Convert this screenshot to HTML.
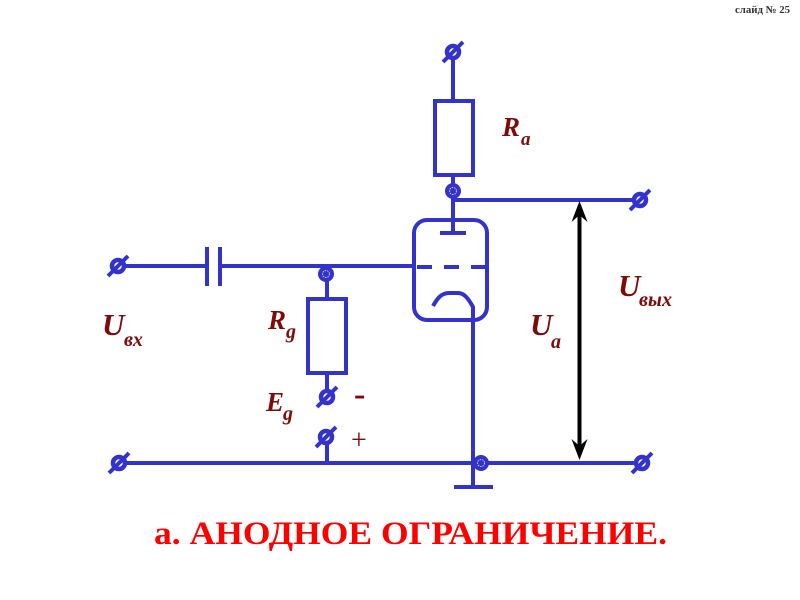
<!DOCTYPE html>
<html><head><meta charset="utf-8"><style>
html,body{margin:0;padding:0;background:#fff;width:800px;height:600px;overflow:hidden}
svg{display:block}
.w{stroke:#3333cc;stroke-width:4;fill:none}
.l{font-family:"Liberation Serif",serif;font-weight:bold;font-style:italic;fill:#7f0a0a}
</style></head><body>
<svg width="800" height="600" viewBox="0 0 800 600" xmlns="http://www.w3.org/2000/svg">
<defs><g id="t"><circle r="6" fill="#fff" stroke="#3333cc" stroke-width="4.5"/><line x1="-10" y1="10" x2="10" y2="-10" stroke="#3333cc" stroke-width="4"/></g>
<g id="j"><circle r="8" fill="#3333cc"/><circle r="3.5" fill="none" stroke="#c8c8f0" stroke-width="1" stroke-dasharray="1.5 1"/></g></defs>
<g style="filter:blur(.35px)">
<path class="w" d="M453 52V101M453 175V233M440 233H466M453 200H640"/>
<rect class="w" x="435" y="101" width="38" height="74"/>
<rect class="w" x="414" y="220" width="73" height="100" rx="13"/>
<path class="w" d="M118 266H207M220 266H413M417 267H432M444 267H459M471 267H487"/>
<path class="w" d="M207 247V286M220 247V286"/>
<path class="w" d="M433 306C437 299 441 293 449 293H458C464 293 468 298 473 307V487M454 487H493"/>
<path class="w" d="M327 275V299M327 373V397M327 437V463M119 463H642"/>
<rect class="w" x="308" y="299" width="38" height="74"/>
<use href="#t" x="453" y="52"/><use href="#t" x="118" y="266"/><use href="#t" x="327" y="397"/>
<use href="#t" x="326" y="437"/><use href="#t" x="119" y="463"/><use href="#t" x="642" y="463"/><use href="#t" x="640" y="200"/>
<use href="#j" x="453" y="191"/><use href="#j" x="326" y="274"/><use href="#j" x="481" y="463"/>
<line x1="579.5" y1="212" x2="579.5" y2="451" stroke="#000" stroke-width="4"/>
<path d="M579.5 201L571.5 222L579.5 215L587.5 222ZM579.5 460L571.5 439L579.5 446L587.5 439Z" fill="#000"/>
</g>
<text class="l" x="502" y="136" font-size="27">R</text><text class="l" x="521" y="145" font-size="19">a</text>
<text class="l" x="268" y="329" font-size="27">R</text><text class="l" x="286" y="338" font-size="20">g</text>
<text class="l" x="266" y="411" font-size="27">E</text><text class="l" x="283" y="420" font-size="20">g</text>
<text class="l" x="102" y="335" font-size="31">U</text><text class="l" x="124" y="346" font-size="20">вх</text>
<text class="l" x="530" y="335" font-size="31">U</text><text class="l" x="551" y="348" font-size="20">a</text>
<text class="l" x="618" y="296" font-size="31">U</text><text class="l" x="639" y="306" font-size="20" textLength="33" lengthAdjust="spacingAndGlyphs">вых</text>
<text x="354" y="405" font-family="Liberation Serif,serif" font-size="34" font-weight="bold" fill="#7f0a0a">-</text>
<text x="351" y="449" font-family="Liberation Serif,serif" font-size="28" fill="#7f0a0a">+</text>
<text x="154" y="544" font-family="Liberation Serif,serif" font-size="33" font-weight="bold" fill="#ff0000" textLength="513" lengthAdjust="spacingAndGlyphs">а. АНОДНОЕ ОГРАНИЧЕНИЕ.</text>
<text x="735" y="13" font-family="Liberation Serif,serif" font-size="10.5" font-weight="bold" fill="#333" textLength="55" lengthAdjust="spacingAndGlyphs">слайд № 25</text>
</svg>
</body></html>
